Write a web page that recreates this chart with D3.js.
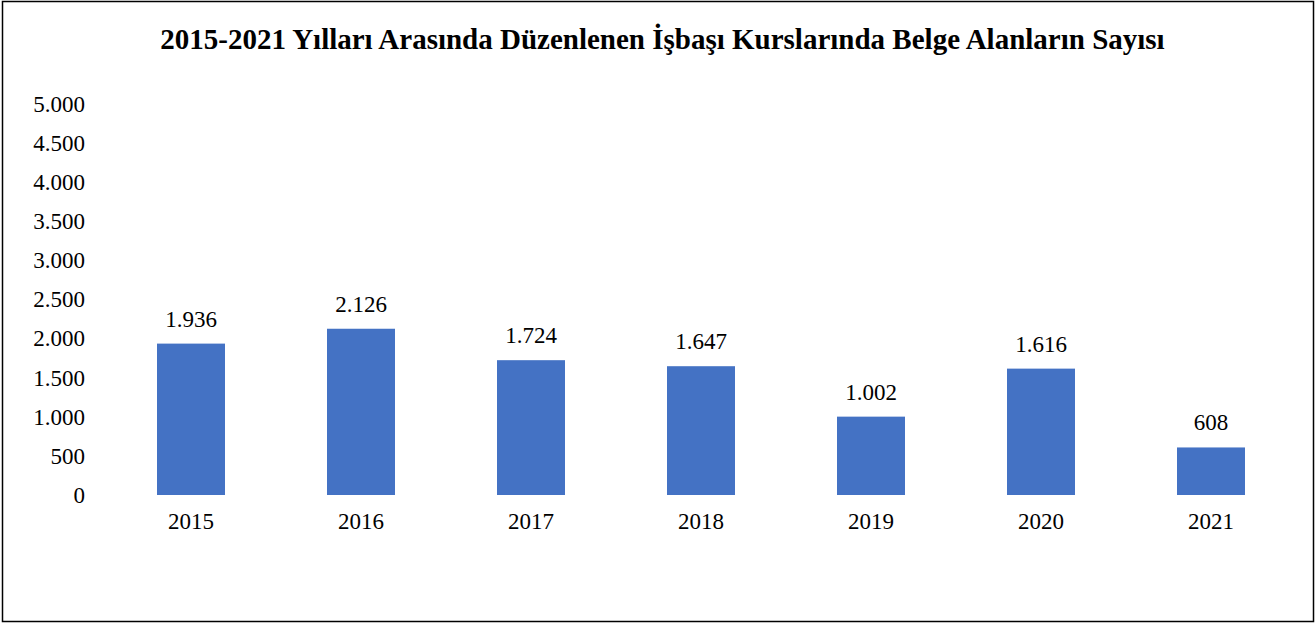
<!DOCTYPE html>
<html><head><meta charset="utf-8">
<script src="https://cdn.jsdelivr.net/npm/d3@7"></script>
<style>body{margin:0;background:#fff}svg{display:block}svg text{font-family:"Liberation Serif","Times New Roman",serif}</style>
</head><body>
<script>
const title = "2015-2021 Yılları Arasında Düzenlenen İşbaşı Kurslarında Belge Alanların Sayısı";
const years = ["2015","2016","2017","2018","2019","2020","2021"];
const values = [1936, 2126, 1724, 1647, 1002, 1616, 608];
const yTicks = [0,500,1000,1500,2000,2500,3000,3500,4000,4500,5000];

const W = 1316, H = 624;
const serif = '"Liberation Serif","Times New Roman",serif';
const fs = "23px";
const fmt = v => d3.format(",")(v).replace(/,/g, ".");
const svg = d3.select("body").append("svg").attr("width", W).attr("height", H);
svg.append("rect").attr("x",2.5).attr("y",1.5).attr("width",1311).attr("height",620)
  .attr("fill","#fff").attr("stroke","#000").attr("stroke-width",1.5);

svg.append("text").attr("x",662.5).attr("y",49).attr("text-anchor","middle")
  .style("font-family",serif).style("font-weight","bold").style("font-size","29px")
  .text(title);

const x = d3.scaleBand().domain(years).range([106,1296]).paddingInner(0.6).paddingOuter(0.3);
const y = d3.scaleLinear().domain([0,5000]).range([495,104]);

const yAxis = svg.append("g").attr("transform","translate(85,0)")
  .call(d3.axisLeft(y).tickValues(yTicks).tickFormat(fmt).tickSize(0).tickPadding(0));
yAxis.select(".domain").remove();
yAxis.selectAll("text").style("font-family",serif).style("font-size",fs).attr("fill","#000");

svg.selectAll("rect.bar").data(values).join("rect").attr("class","bar")
  .attr("x",(d,i)=>x(years[i])).attr("width",x.bandwidth())
  .attr("y",d=>y(d)).attr("height",d=>y(0)-y(d)).attr("fill","#4472C4");

svg.selectAll("text.val").data(values).join("text").attr("class","val")
  .attr("x",(d,i)=>x(years[i])+x.bandwidth()/2).attr("y",d=>y(d)-17)
  .attr("text-anchor","middle").style("font-family",serif).style("font-size",fs)
  .text(fmt);

const xAxis = svg.append("g").attr("transform","translate(0,495)")
  .call(d3.axisBottom(x).tickSize(0).tickPadding(18));
xAxis.select(".domain").remove();
xAxis.selectAll("text").style("font-family",serif).style("font-size",fs).attr("fill","#000");
</script>
</body></html>
